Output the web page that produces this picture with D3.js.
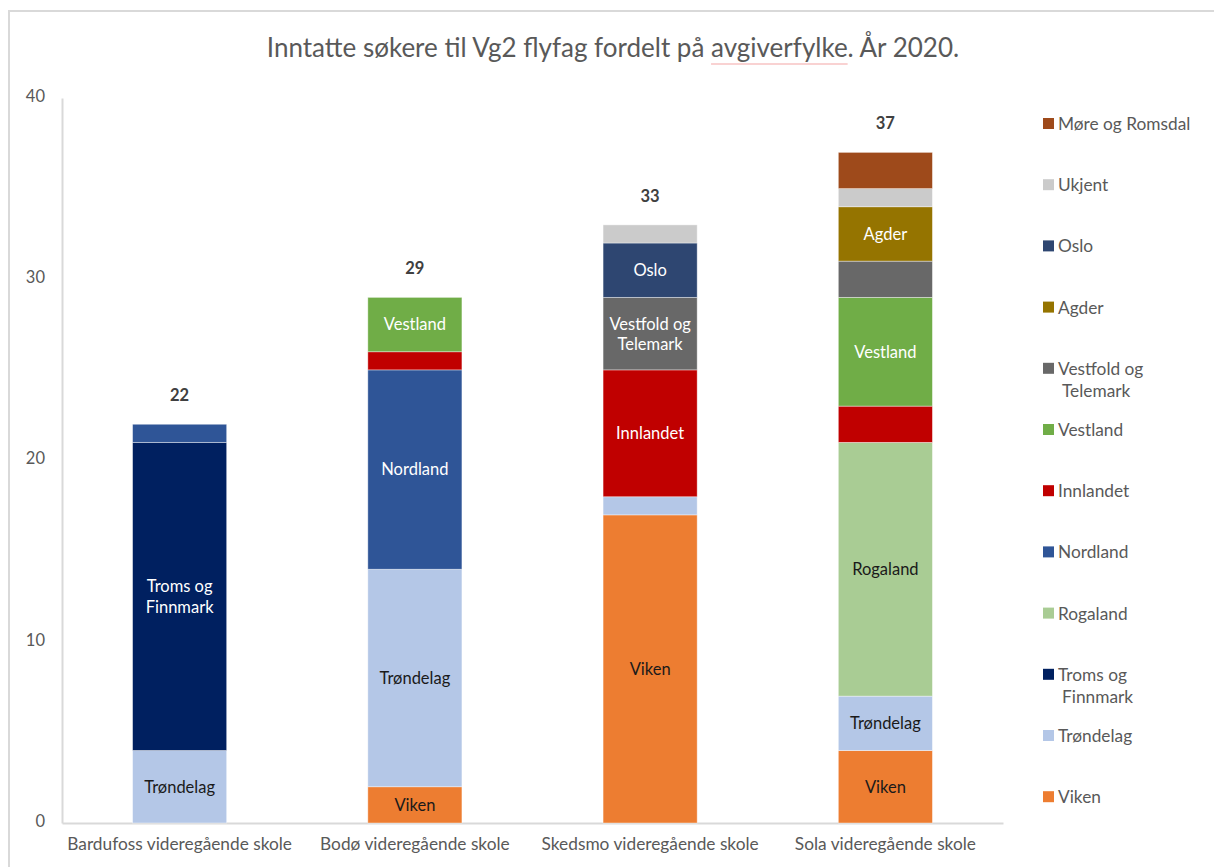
<!DOCTYPE html>
<html>
<head>
<meta charset="utf-8">
<script src="https://cdn.jsdelivr.net/npm/d3@7"></script>
<style>
  body { margin: 0; background: #fff; }
  svg { font-family: Lato, "Open Sans", sans-serif; }
</style>
</head>
<body>
<svg></svg>
<script>
const width = 1214;
const height = 867;

const schools = ["Bardufoss videregående skole", "Bodø videregående skole",
                 "Skedsmo videregående skole", "Sola videregående skole"];
// stacking order, bottom to top
const regions = ["Viken", "Trøndelag", "Troms og Finnmark", "Rogaland", "Nordland",
                 "Innlandet", "Vestland", "Vestfold og Telemark", "Agder", "Oslo",
                 "Ukjent", "Møre og Romsdal"];
const viken = [0, 2, 17, 4];
const trondelag = [4, 12, 1, 3];
const tromsFinnmark = [17, 0, 0, 0];
const rogaland = [0, 0, 0, 14];
const nordland = [1, 11, 0, 0];
const innlandet = [0, 1, 7, 2];
const vestland = [0, 3, 0, 6];
const vestfoldTelemark = [0, 0, 4, 2];
const agder = [0, 0, 0, 3];
const oslo = [0, 0, 3, 0];
const ukjent = [0, 0, 1, 1];
const moreRomsdal = [0, 0, 0, 2];
const yTicks = [0, 10, 20, 30, 40];
// segments that carry no label in the original: [region, school index]
const unlabelled = [["Nordland", 0], ["Innlandet", 1], ["Trøndelag", 2], ["Ukjent", 2],
                    ["Innlandet", 3], ["Vestfold og Telemark", 3], ["Ukjent", 3], ["Møre og Romsdal", 3]];

const series = [viken, trondelag, tromsFinnmark, rogaland, nordland, innlandet,
                vestland, vestfoldTelemark, agder, oslo, ukjent, moreRomsdal];
const colors = ["#ED7D31", "#B4C7E7", "#002060", "#A9CC94", "#2F5597", "#C00000",
                "#70AD47", "#686868", "#957400", "#2E4671", "#CBCBCB", "#9E4A1B"];
const darkText = ["Viken", "Trøndelag", "Rogaland"];

const rows = schools.map((s, i) => {
    const row = {school: s};
    regions.forEach((r, j) => row[r] = series[j][i]);
    return row;
});
const stacked = d3.stack().keys(regions)(rows);
const totals = schools.map((s, i) => d3.sum(series, v => v[i]));

const svg = d3.select('svg').attr('width', width).attr('height', height);

// chart frame
svg.append('rect')
    .attr('x', 9).attr('y', 11).attr('width', width + 20).attr('height', height + 20)
    .attr('fill', '#fff').attr('stroke', '#D9D9D9').attr('stroke-width', 2);

const x = d3.scaleBand().domain(schools).range([62, 1003])
    .paddingInner(0.6).paddingOuter(0.3);
const y = d3.scaleLinear().domain([0, 40]).range([823, 98]);
const color = d3.scaleOrdinal().domain(regions).range(colors);

// title
const title = svg.append('text')
    .attr('x', 613).attr('y', 57)
    .attr('text-anchor', 'middle')
    .attr('font-size', 26)
    .attr('fill', '#595959')
    .text('Inntatte søkere til Vg2 flyfag fordelt på avgiverfylke. År 2020.');
const tNode = title.node();
const full = tNode.textContent;
const start = full.indexOf('avgiverfylke');
const bb = tNode.getBBox();
const x0 = bb.x + tNode.getSubStringLength(0, start);
const w0 = tNode.getSubStringLength(start, 'avgiverfylke'.length);
svg.append('line')
    .attr('x1', x0).attr('x2', x0 + w0).attr('y1', 64).attr('y2', 64)
    .attr('stroke', '#F4A6A6').attr('stroke-width', 1.2);

// y axis
const yAxis = svg.append('g')
    .attr('transform', 'translate(62,0)')
    .call(d3.axisLeft(y).tickValues(yTicks).tickSize(0).tickPadding(17));
yAxis.select('.domain').attr('stroke', '#D9D9D9').attr('stroke-width', 2);
yAxis.selectAll('text').attr('fill', '#595959').attr('font-size', 16.5)
    .attr('font-family', 'Lato, sans-serif').attr('dy', '0.2em');

// x axis
const xAxis = svg.append('g')
    .attr('transform', 'translate(0,823)')
    .call(d3.axisBottom(x).tickSize(0).tickPadding(15));
xAxis.select('.domain').attr('stroke', '#D9D9D9').attr('stroke-width', 2);
xAxis.selectAll('text').attr('fill', '#595959').attr('font-size', 17.3)
    .attr('font-family', 'Lato, sans-serif');

// bars
const layers = svg.append('g').selectAll('g')
    .data(stacked).enter().append('g')
    .attr('fill', d => color(d.key));

layers.selectAll('rect')
    .data(d => d.map((p, i) => ({key: d.key, i: i, y0: p[0], y1: p[1]})))
    .enter().append('rect')
    .filter(d => d.y1 > d.y0)
    .attr('x', d => x(schools[d.i]))
    .attr('width', x.bandwidth())
    .attr('y', d => y(d.y1))
    .attr('height', d => y(d.y0) - y(d.y1))
    .attr('stroke', '#fff').attr('stroke-opacity', 0.5).attr('stroke-width', 0.8);

// segment labels
const labelData = [];
stacked.forEach(layer => layer.forEach((p, i) => {
    const v = p[1] - p[0];
    if (v <= 0) return;
    if (unlabelled.some(u => u[0] === layer.key && u[1] === i)) return;
    labelData.push({key: layer.key, i: i, mid: (p[0] + p[1]) / 2});
}));

const labels = svg.append('g').selectAll('text')
    .data(labelData).enter().append('text')
    .attr('x', d => x(schools[d.i]) + x.bandwidth() / 2)
    .attr('y', d => y(d.mid))
    .attr('text-anchor', 'middle')
    .attr('font-size', 16.5)
    .attr('fill', d => darkText.includes(d.key) ? '#1a1a1a' : '#fff');

labels.each(function (d) {
    const t = d3.select(this);
    const lines = d.key === 'Troms og Finnmark' ? ['Troms og', 'Finnmark']
        : d.key === 'Vestfold og Telemark' ? ['Vestfold og', 'Telemark'] : [d.key];
    lines.forEach((l, k) => {
        t.append('tspan')
            .attr('x', x(schools[d.i]) + x.bandwidth() / 2)
            .attr('dy', k === 0 ? (0.35 - (lines.length - 1) * 0.6) + 'em' : '1.25em')
            .text(l);
    });
});

// totals
svg.append('g').selectAll('text')
    .data(totals).enter().append('text')
    .attr('x', (d, i) => x(schools[i]) + x.bandwidth() / 2)
    .attr('y', d => y(d) - 23)
    .attr('text-anchor', 'middle')
    .attr('font-size', 16.5)
    .attr('font-weight', 'bold')
    .attr('fill', '#404040')
    .text(d => d);

// legend, top = last region
const legendOrder = regions.slice().reverse();
const legend = svg.append('g').selectAll('g')
    .data(legendOrder).enter().append('g')
    .attr('transform', (d, i) => `translate(1043,${124 + i * 61.2})`);

legend.append('rect')
    .attr('x', 0).attr('y', -6).attr('width', 11).attr('height', 11)
    .attr('fill', d => color(d));

legend.each(function (d) {
    const g = d3.select(this);
    const lines = d === 'Troms og Finnmark' ? ['Troms og', 'Finnmark']
        : d === 'Vestfold og Telemark' ? ['Vestfold og', 'Telemark'] : [d];
    lines.forEach((l, k) => {
        g.append('text')
            .attr('x', k === 0 ? 15 : 19)
            .attr('y', k * 22)
            .attr('dy', '0.35em')
            .attr('font-size', 17.3)
            .attr('fill', '#595959')
            .text(l);
    });
});
</script>
</body>
</html>
